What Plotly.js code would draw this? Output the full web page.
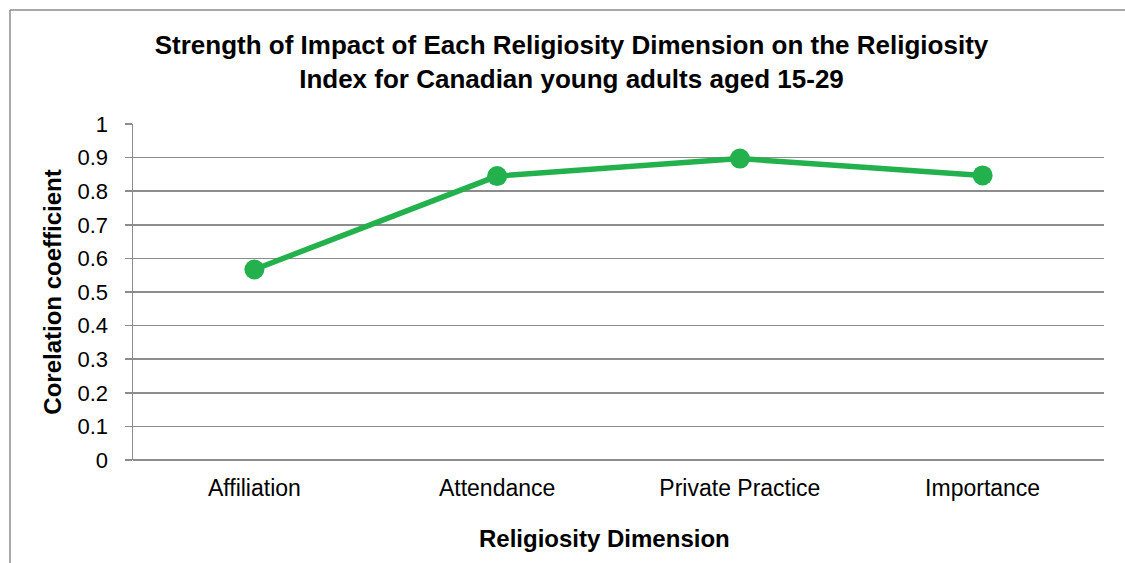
<!DOCTYPE html>
<html>
<head>
<meta charset="utf-8">
<script src="https://cdn.plot.ly/plotly-3.0.1.min.js"></script>
<style>html,body{margin:0;padding:0;background:#fff;}#chart{width:1125px;height:563px;}</style>
</head>
<body>
<div id="chart"></div>
<script>
const categories = ["Affiliation", "Attendance", "Private Practice", "Importance"];
const correlation = [0.567, 0.845, 0.897, 0.847];
const yTickValues = [0, 0.1, 0.2, 0.3, 0.4, 0.5, 0.6, 0.7, 0.8, 0.9, 1];
const yTickLabels = ["0", "0.1", "0.2", "0.3", "0.4", "0.5", "0.6", "0.7", "0.8", "0.9", "1"];

const W = 1125, H = 563;
const M = {l: 133, r: 21, t: 124, b: 103};
const pw = W - M.l - M.r, ph = H - M.t - M.b;
const px = v => (v - M.l) / pw;
const py = v => (H - M.b - v) / ph;

const grey = "#8c8c8c";
const font = "Liberation Sans, Arial, sans-serif";

const trace = {
  type: "scatter",
  mode: "lines+markers",
  x: categories,
  y: correlation,
  line: {color: "#23b14d", width: 5.5},
  marker: {color: "#23b14d", size: 20},
  hoverinfo: "skip",
  cliponaxis: false
};

const layout = {
  width: W, height: H,
  margin: M,
  paper_bgcolor: "#fff", plot_bgcolor: "#fff",
  showlegend: false,
  font: {family: font, color: "#000"},
  title: {
    text: "<b>Strength of Impact of Each Religiosity Dimension on the Religiosity<br>Index for Canadian young adults aged 15-29</b>",
    font: {size: 26, family: font, color: "#000"},
    x: 0.508, xref: "container", xanchor: "center",
    y: 1 - 54 / H, yref: "container", yanchor: "top"
  },
  xaxis: {
    type: "category",
    range: [-0.5, 3.5],
    showgrid: false,
    zeroline: false,
    showline: false,
    ticks: "",
    tickfont: {size: 23, family: font, color: "#000"},
    ticklabelstandoff: 12
  },
  yaxis: {
    range: [0, 1],
    tickvals: yTickValues,
    ticktext: yTickLabels,
    showgrid: true,
    gridcolor: grey, gridwidth: 1.5,
    zeroline: true, zerolinecolor: grey, zerolinewidth: 1.5,
    showline: true, linecolor: grey, linewidth: 1.5,
    ticks: "outside", ticklen: 7, tickcolor: grey, tickwidth: 1.5,
    tickfont: {size: 22, family: font, color: "#000"},
    ticklabelstandoff: 12,
    title: {text: "<b>Corelation coefficient</b>", font: {size: 24, family: font, color: "#000"}, standoff: 9}
  },
  annotations: [
    {text: "<b>Religiosity Dimension</b>", xref: "paper", yref: "paper", x: px(604), y: py(538),
     xanchor: "center", yanchor: "middle", showarrow: false, font: {size: 24, family: font, color: "#000"}}
  ],
  shapes: [
    {type: "line", xref: "paper", yref: "paper", x0: px(10), x1: px(1130), y0: py(10), y1: py(10), line: {color: grey, width: 1.5}},
    {type: "line", xref: "paper", yref: "paper", x0: px(10), x1: px(10), y0: py(10), y1: py(575), line: {color: grey, width: 1.5}}
  ]
};

Plotly.newPlot("chart", [trace], layout, {displayModeBar: false, staticPlot: true});
</script>
</body>
</html>
